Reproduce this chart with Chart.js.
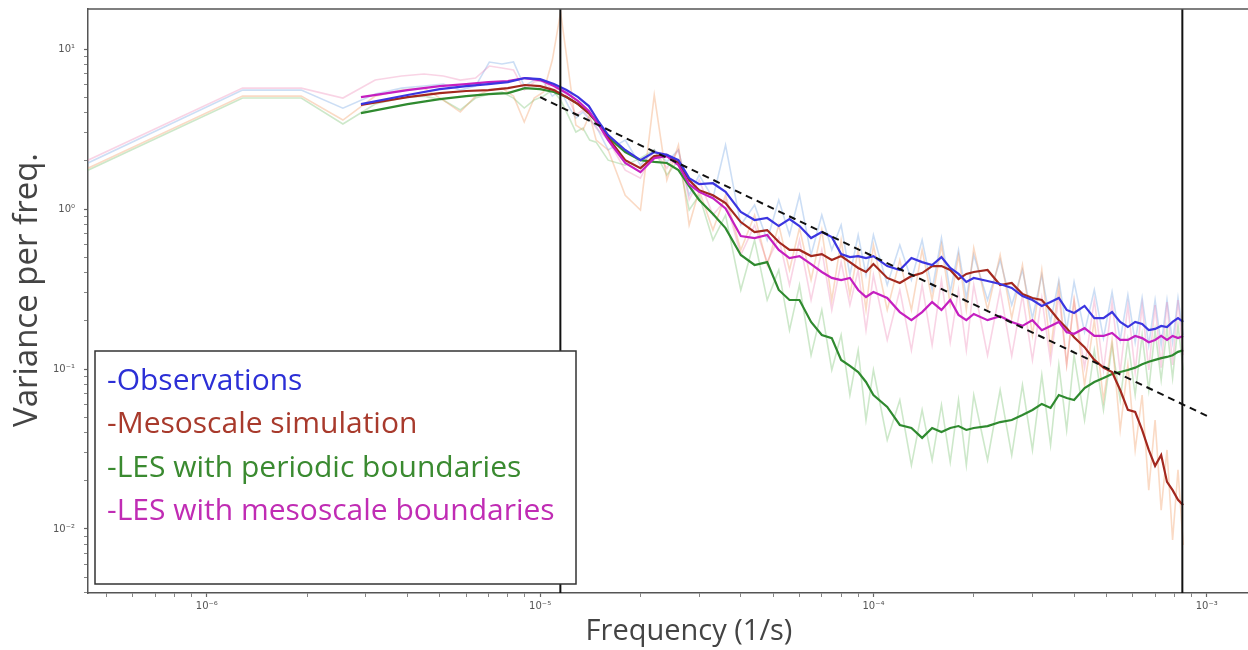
<!DOCTYPE html>
<html>
<head>
<meta charset="utf-8">
<script src="https://cdn.jsdelivr.net/npm/chart.js@4.4.1/dist/chart.umd.min.js"></script>
<style>
  html, body { margin: 0; padding: 0; background: #fff; }
  #wrap { width: 1248px; height: 650px; position: relative; }
</style>
</head>
<body>
<div id="wrap"><canvas id="spectrumChart"></canvas></div>
<script>
// frequency grid (1/s) of the smoothed spectra
var smoothFreq = [2.9e-6, 4.0e-6, 5.0e-6, 6.0e-6, 7.0e-6, 8.0e-6, 9.0e-6, 1.0e-5, 1.1e-5, 1.2e-5,
  1.3e-5, 1.4e-5, 1.5e-5, 1.6e-5, 1.8e-5, 2.0e-5, 2.2e-5, 2.4e-5, 2.6e-5, 2.8e-5,
  3.0e-5, 3.3e-5, 3.6e-5, 4.0e-5, 4.4e-5, 4.8e-5, 5.2e-5, 5.6e-5, 6.0e-5, 6.5e-5,
  7.0e-5, 7.5e-5, 8.0e-5, 8.5e-5, 9.0e-5, 9.5e-5, 1.0e-4, 1.1e-4, 1.2e-4, 1.3e-4,
  1.4e-4, 1.5e-4, 1.6e-4, 1.7e-4, 1.8e-4, 1.9e-4, 2.0e-4, 2.2e-4, 2.4e-4, 2.6e-4,
  2.8e-4, 3.0e-4, 3.2e-4, 3.4e-4, 3.6e-4, 3.8e-4, 4.0e-4, 4.3e-4, 4.6e-4, 4.9e-4,
  5.2e-4, 5.5e-4, 5.8e-4, 6.1e-4, 6.4e-4, 6.7e-4, 7.0e-4, 7.3e-4, 7.6e-4, 7.9e-4,
  8.2e-4, 8.5e-4];

var obsSmooth = [4.53, 5.16, 5.62, 5.87, 6.04, 6.22, 6.59, 6.49, 6.04, 5.54,
  5.01, 4.40, 3.50, 2.90, 2.34, 2.02, 2.27, 2.18, 2.02, 1.56,
  1.43, 1.45, 1.28, 0.958, 0.854, 0.879, 0.783, 0.866, 0.783, 0.659,
  0.718, 0.668, 0.523, 0.501, 0.508, 0.494, 0.508, 0.440, 0.416, 0.494,
  0.466, 0.447, 0.501, 0.428, 0.393, 0.350, 0.371, 0.355, 0.340, 0.321,
  0.286, 0.270, 0.248, 0.262, 0.278, 0.234, 0.224, 0.248, 0.208, 0.208,
  0.227, 0.197, 0.183, 0.197, 0.191, 0.175, 0.178, 0.186, 0.183, 0.197,
  0.208, 0.197];

var mesoSmooth = [4.47, 5.01, 5.31, 5.47, 5.54, 5.70, 5.96, 5.87, 5.54, 5.01,
  4.53, 3.98, 3.40, 2.78, 2.02, 1.80, 2.14, 2.18, 1.94, 1.52,
  1.31, 1.22, 1.09, 0.829, 0.718, 0.739, 0.622, 0.555, 0.555, 0.508,
  0.523, 0.480, 0.508, 0.466, 0.428, 0.404, 0.453, 0.371, 0.345, 0.381,
  0.398, 0.440, 0.440, 0.416, 0.365, 0.393, 0.404, 0.416, 0.335, 0.345,
  0.294, 0.278, 0.270, 0.234, 0.202, 0.180, 0.158, 0.137, 0.114, 0.102,
  0.0958, 0.0739, 0.0555, 0.0539, 0.0416, 0.0312, 0.0248, 0.0290, 0.0197, 0.0175,
  0.0152, 0.0141];

var lesPeriodicSmooth = [3.98, 4.53, 4.87, 5.08, 5.23, 5.31, 5.70, 5.62, 5.39, 5.01,
  4.53, 3.98, 3.35, 2.82, 2.27, 2.02, 1.97, 1.94, 1.75, 1.39,
  1.14, 0.931, 0.760, 0.516, 0.447, 0.466, 0.312, 0.270, 0.270, 0.197,
  0.163, 0.156, 0.114, 0.1045, 0.0958, 0.0830, 0.0688, 0.0579, 0.0447, 0.0428,
  0.0371, 0.0428, 0.0404, 0.0428, 0.0440, 0.0416, 0.0428, 0.0440, 0.0466, 0.0480,
  0.0516, 0.0555, 0.0605, 0.0571, 0.0688, 0.0659, 0.0640, 0.0760, 0.0830, 0.0879,
  0.0931, 0.0958, 0.0986, 0.102, 0.107, 0.111, 0.114, 0.117, 0.119, 0.122,
  0.128, 0.131];

var lesMesoSmooth = [5.01, 5.54, 5.87, 6.04, 6.22, 6.31, 6.59, 6.40, 5.87, 5.31,
  4.73, 4.10, 3.35, 2.70, 1.94, 1.70, 2.08, 2.14, 1.88, 1.43,
  1.28, 1.17, 1.01, 0.678, 0.659, 0.688, 0.555, 0.494, 0.508, 0.453,
  0.404, 0.371, 0.360, 0.371, 0.312, 0.282, 0.303, 0.278, 0.227, 0.202,
  0.227, 0.262, 0.234, 0.270, 0.218, 0.202, 0.221, 0.202, 0.214, 0.197,
  0.186, 0.202, 0.175, 0.186, 0.197, 0.170, 0.166, 0.180, 0.161, 0.161,
  0.168, 0.152, 0.152, 0.161, 0.156, 0.147, 0.152, 0.161, 0.152, 0.161,
  0.156, 0.161];

// frequency grid of the raw (unsmoothed) spectra
var rawFreq = [4.4e-7, 1.28e-6, 1.92e-6, 2.56e-6, 3.2e-6, 3.84e-6, 4.48e-6, 5.12e-6, 5.76e-6, 6.4e-6,
  7.04e-6, 7.68e-6, 8.32e-6, 8.96e-6, 9.6e-6, 1.024e-5, 1.088e-5, 1.152e-5, 1.216e-5, 1.28e-5,
  1.344e-5, 1.408e-5, 1.472e-5,
  1.6e-5, 1.8e-5, 2.0e-5, 2.2e-5, 2.4e-5, 2.6e-5, 2.8e-5, 3.0e-5, 3.3e-5, 3.6e-5,
  4.0e-5, 4.4e-5, 4.8e-5, 5.2e-5, 5.6e-5, 6.0e-5, 6.5e-5, 7.0e-5, 7.5e-5, 8.0e-5,
  8.5e-5, 9.0e-5, 9.5e-5, 1.0e-4, 1.1e-4, 1.2e-4, 1.3e-4, 1.4e-4, 1.5e-4, 1.6e-4,
  1.7e-4, 1.8e-4, 1.9e-4, 2.0e-4, 2.2e-4, 2.4e-4, 2.6e-4, 2.8e-4, 3.0e-4, 3.2e-4,
  3.4e-4, 3.6e-4, 3.8e-4, 4.0e-4, 4.3e-4, 4.6e-4, 4.9e-4, 5.2e-4, 5.5e-4, 5.8e-4,
  6.1e-4, 6.4e-4, 6.7e-4, 7.0e-4, 7.3e-4, 7.6e-4, 7.9e-4, 8.2e-4, 8.5e-4];

var obsRaw = [1.94, 5.54, 5.54, 4.27, 5.24, 5.70, 5.87, 6.04, 5.54, 5.87,
  8.30, 8.06, 8.30, 5.87, 6.40, 6.22, 5.08, 5.54, 4.40, 3.70,
  4.04, 3.60, 3.30,
  2.34, 2.70, 1.88, 2.34, 1.97, 2.34, 1.22, 1.63, 1.17, 2.51,
  0.794, 1.06, 0.640, 1.14, 0.688, 1.22, 0.516, 0.917, 0.555, 0.794,
  0.387, 0.688, 0.387, 0.688, 0.335, 0.596, 0.360, 0.640, 0.312, 0.659,
  0.303, 0.555, 0.278, 0.516, 0.270, 0.480, 0.251, 0.416, 0.208, 0.387,
  0.197, 0.360, 0.175, 0.350, 0.170, 0.312, 0.156, 0.303, 0.152, 0.290,
  0.147, 0.278, 0.141, 0.270, 0.141, 0.270, 0.147, 0.278, 0.163];

var mesoRaw = [1.80, 5.08, 5.08, 3.60, 5.08, 5.54, 5.70, 4.80, 4.04, 5.08,
  5.54, 5.70, 5.08, 3.50, 4.94, 5.39, 8.54, 17.0, 7.39, 3.35,
  3.12, 3.87, 2.70,
  2.34, 1.22, 0.986, 5.16, 1.52, 2.51, 0.794, 1.31, 0.739, 1.22,
  0.555, 0.917, 0.447, 0.794, 0.416, 0.760, 0.360, 0.739, 0.270, 0.640,
  0.290, 0.555, 0.234, 0.596, 0.234, 0.480, 0.234, 0.555, 0.270, 0.596,
  0.251, 0.516, 0.234, 0.571, 0.234, 0.516, 0.208, 0.447, 0.163, 0.416,
  0.131, 0.335, 0.106, 0.270, 0.0794, 0.202, 0.0640, 0.152, 0.0416, 0.106,
  0.0312, 0.0688, 0.0175, 0.0480, 0.0131, 0.0312, 0.00854, 0.0234, 0.00794];

var lesPeriodicRaw = [1.75, 4.94, 4.94, 3.40, 4.53, 4.94, 5.08, 4.80, 4.16, 4.94,
  5.23, 5.39, 4.94, 4.28, 4.80, 5.08, 5.54, 4.80, 3.81, 3.03,
  3.21, 2.70, 2.62,
  2.02, 1.88, 2.08, 2.34, 1.63, 2.02, 0.986, 1.22, 0.640, 0.917,
  0.312, 0.640, 0.270, 0.416, 0.175, 0.335, 0.122, 0.234, 0.0986, 0.163,
  0.0688, 0.131, 0.0480, 0.0986, 0.0360, 0.0640, 0.0251, 0.0555, 0.0270, 0.0596,
  0.0262, 0.0640, 0.0251, 0.0688, 0.0270, 0.0739, 0.0290, 0.0794, 0.0312, 0.0917,
  0.0335, 0.106, 0.0416, 0.122, 0.0480, 0.131, 0.0555, 0.141, 0.0640, 0.152,
  0.0688, 0.163, 0.0739, 0.175, 0.0854, 0.180, 0.0879, 0.188, 0.0986];

var lesMesoRaw = [2.02, 5.70, 5.70, 4.94, 6.40, 6.78, 6.98, 6.78, 6.40, 6.59,
  7.83, 7.61, 7.39, 5.54, 6.22, 6.40, 5.54, 5.70, 4.94, 3.87,
  4.16, 3.70, 3.21,
  2.70, 1.75, 1.56, 2.34, 1.80, 2.34, 1.14, 1.52, 0.917, 1.14,
  0.516, 0.794, 0.466, 0.659, 0.335, 0.640, 0.270, 0.555, 0.234, 0.466,
  0.251, 0.416, 0.175, 0.387, 0.152, 0.312, 0.131, 0.335, 0.141, 0.360,
  0.147, 0.312, 0.131, 0.335, 0.122, 0.312, 0.121, 0.290, 0.114, 0.278,
  0.111, 0.290, 0.106, 0.270, 0.102, 0.270, 0.0986, 0.262, 0.0958, 0.251,
  0.0958, 0.251, 0.0986, 0.251, 0.102, 0.262, 0.106, 0.270, 0.122];

// dashed reference slope and the two vertical markers
var slopeFreq = [1.0e-5, 1.02e-3];
var slopeValue = [5.0, 0.05];
var markerFreq = [1.15e-5, 8.45e-4];

var legendLabels = ['-Observations', '-Mesoscale simulation', '-LES with periodic boundaries', '-LES with mesoscale boundaries'];
var legendColors = ['#2c2fd6', '#a83a2c', '#3a8a30', '#c02cb4'];

var xMajor = [1e-6, 1e-5, 1e-4, 1e-3];
var xTickLabels = ['10\u207b\u2076', '10\u207b\u2075', '10\u207b\u2074', '10\u207b\u00b3'];
var yMajor = [1e-2, 1e-1, 1, 10];
var yTickLabels = ['10\u207b\u00b2', '10\u207b\u00b9', '10\u2070', '10\u00b9'];

var X_MIN = 4.4e-7, X_MAX = 1.33e-3;
var Y_MIN = 0.00398, Y_MAX = 17.8;

function pairs(xs, ys) {
  return xs.map(function(x, i) { return { x: x, y: ys[i] }; });
}

function logTicks(min, max) {
  var out = [];
  for (var e = Math.floor(Math.log10(min)); e <= Math.ceil(Math.log10(max)); e++) {
    for (var m = 1; m < 10; m++) {
      var v = m * Math.pow(10, e);
      if (v >= min && v <= max) out.push({ value: v, major: m === 1 });
    }
  }
  return out;
}

function majorLabel(value, majors, labels) {
  for (var i = 0; i < majors.length; i++) {
    if (Math.abs(value / majors[i] - 1) < 1e-6) return labels[i];
  }
  return '';
}

function rawLine(data, color) {
  return { data: data, borderColor: color, borderWidth: 1.6, showLine: true, pointRadius: 0, order: 10 };
}
function boldLine(data, color, order) {
  return { data: data, borderColor: color, borderWidth: 2.2, showLine: true, pointRadius: 0, order: order };
}
function markerLine(f) {
  return { data: [{ x: f, y: Y_MIN }, { x: f, y: Y_MAX }], borderColor: '#111', borderWidth: 2, showLine: true, pointRadius: 0, order: 1 };
}

// legend box, top frame line and axis titles
var decorPlugin = {
  id: 'decor',
  afterDatasetsDraw: function(chart) {
    var ctx = chart.ctx, area = chart.chartArea;
    ctx.save();
    ctx.strokeStyle = '#555';
    ctx.lineWidth = 1.5;
    ctx.beginPath();
    ctx.moveTo(area.left, area.top);
    ctx.lineTo(area.right, area.top);
    ctx.stroke();

    // legend
    ctx.fillStyle = '#fff';
    ctx.fillRect(95, 351, 481, 233);
    ctx.strokeStyle = '#333';
    ctx.lineWidth = 1.5;
    ctx.strokeRect(95, 351, 481, 233);
    ctx.font = '30px "Open Sans"';
    ctx.textBaseline = 'middle';
    ctx.textAlign = 'left';
    legendLabels.forEach(function(t, i) {
      ctx.fillStyle = legendColors[i];
      ctx.fillText(t, 107, 381 + i * 43.5);
    });

    // axis titles
    ctx.fillStyle = '#444';
    ctx.font = '29px "Open Sans"';
    ctx.textAlign = 'center';
    ctx.fillText('Frequency (1/s)', 689, 632);
    ctx.translate(28, 290);
    ctx.rotate(-Math.PI / 2);
    ctx.font = '33px "Open Sans"';
    ctx.fillText('Variance per freq.', 0, 0);
    ctx.restore();
  }
};

var ctx1 = document.getElementById('spectrumChart').getContext('2d');

new Chart(ctx1, {
  type: 'scatter',
  data: {
    datasets: [
      rawLine(pairs(rawFreq, mesoRaw), 'rgba(240,150,90,0.35)'),
      rawLine(pairs(rawFreq, lesPeriodicRaw), 'rgba(100,185,90,0.32)'),
      rawLine(pairs(rawFreq, lesMesoRaw), 'rgba(235,120,175,0.32)'),
      rawLine(pairs(rawFreq, obsRaw), 'rgba(110,160,225,0.35)'),
      boldLine(pairs(smoothFreq, lesPeriodicSmooth), '#2f8a2f', 6),
      boldLine(pairs(smoothFreq, mesoSmooth), '#a3281e', 5),
      boldLine(pairs(smoothFreq, lesMesoSmooth), '#c51fc0', 4),
      boldLine(pairs(smoothFreq, obsSmooth), '#3b35e0', 3),
      { data: pairs(slopeFreq, slopeValue), borderColor: '#111', borderWidth: 2, borderDash: [7, 5],
        showLine: true, pointRadius: 0, order: 2 },
      markerLine(markerFreq[0]),
      markerLine(markerFreq[1])
    ]
  },
  options: {
    responsive: true,
    maintainAspectRatio: false,
    animation: false,
    layout: { padding: { top: 9, right: 0, left: 0, bottom: 0 } },
    plugins: { legend: { display: false }, tooltip: { enabled: false } },
    scales: {
      x: {
        type: 'logarithmic',
        min: X_MIN,
        max: X_MAX,
        afterFit: function(scale) {
          scale.height = 57;
          scale.paddingLeft = 0;
          scale.paddingRight = 0;
        },
        afterBuildTicks: function(scale) { scale.ticks = logTicks(X_MIN, X_MAX); },
        ticks: {
          autoSkip: false,
          maxRotation: 0,
          padding: 3,
          color: '#555',
          font: { family: 'DejaVu Sans', size: 10 },
          callback: function(value) { return majorLabel(value, xMajor, xTickLabels); }
        },
        grid: {
          drawOnChartArea: false,
          tickLength: 4,
          tickColor: '#666',
          tickWidth: function(c) { return c.tick && c.tick.major ? 1.2 : 0.8; }
        },
        border: { color: '#555', width: 1.5 }
      },
      y: {
        type: 'logarithmic',
        min: Y_MIN,
        max: Y_MAX,
        afterFit: function(scale) {
          scale.width = 88;
          scale.paddingTop = 0;
          scale.paddingBottom = 0;
        },
        afterBuildTicks: function(scale) { scale.ticks = logTicks(Y_MIN, Y_MAX); },
        ticks: {
          autoSkip: false,
          padding: 9,
          color: '#555',
          font: { family: 'DejaVu Sans', size: 10 },
          callback: function(value) { return majorLabel(value, yMajor, yTickLabels); }
        },
        grid: {
          drawOnChartArea: false,
          tickLength: 4,
          tickColor: '#666',
          tickWidth: function(c) { return c.tick && c.tick.major ? 1.2 : 0.8; }
        },
        border: { color: '#555', width: 1.5 }
      }
    }
  },
  plugins: [decorPlugin]
});
</script>
</body>
</html>
